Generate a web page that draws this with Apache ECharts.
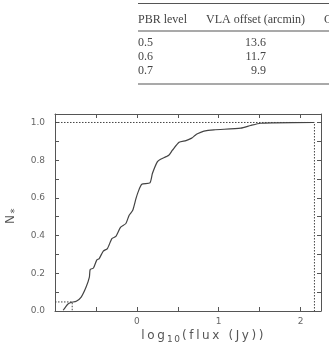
<!DOCTYPE html>
<html>
<head>
<meta charset="utf-8">
<script src="https://cdn.jsdelivr.net/npm/echarts@6/dist/echarts.min.js"></script>
<style>
  html, body { margin: 0; padding: 0; background: #fff; }
  #chart-box { width: 329px; height: 347px; }
</style>
</head>
<body>
<div id="chart-box"></div>
<script>
// table above the plot
const tableHead = ['PBR level', 'VLA offset (arcmin)', 'C']
const pbrLevels = ['0.5', '0.6', '0.7']
const vlaOffsets = ['13.6', '11.7', '9.9']

// cumulative curve, log10(flux) vs N*
const fluxLog = [-0.90, -0.87, -0.845, -0.805, -0.74, -0.68, -0.62, -0.58, -0.57, -0.53, -0.49, -0.46,
  -0.41, -0.36, -0.305, -0.256, -0.20, -0.134, -0.094, -0.05, -0.01, 0.016, 0.06, 0.16, 0.19,
  0.25, 0.29, 0.39, 0.435, 0.516, 0.60, 0.67, 0.71, 0.74, 0.82, 0.94, 1.27, 1.39, 1.51, 1.67, 2.16]
const nStar = [0.004, 0.022, 0.036, 0.045, 0.052, 0.074, 0.127, 0.18, 0.22, 0.228, 0.27, 0.278,
  0.318, 0.331, 0.384, 0.396, 0.443, 0.464, 0.508, 0.534, 0.597, 0.632, 0.672, 0.68, 0.729,
  0.791, 0.805, 0.826, 0.853, 0.895, 0.904, 0.917, 0.931, 0.94, 0.954, 0.961, 0.97, 0.984, 0.996, 0.998, 1.0]

// dotted guide lines
const upperGuideX = [-1, 2.17, 2.17]
const upperGuideY = [1, 1, 0]
const lowerGuideX = [-1, -0.79, -0.79]
const lowerGuideY = [0.048, 0.048, 0]

const xTickLabels = [0, 1, 2]
const yTickLabels = [0, 0.2, 0.4, 0.6, 0.8, 1.0]

const ink = '#444'
const pairs = (xs, ys) => xs.map((x, i) => [x, ys[i]])
const spaced = (str, key) => str.split('').map(c => '{' + key + '|' + c + '}').join('')

const axisCommon = {
  axisLine: { onZero: false, lineStyle: { color: '#555', width: 1 } },
  axisTick: { inside: true, length: 4, lineStyle: { color: '#555' } },
  splitLine: { show: false }
}
const labelStyle = { color: '#666', fontSize: 9, fontFamily: 'DejaVu Sans' }

const graphics = []
// rules of the table
;[3.5, 31, 84].forEach(y => {
  graphics.push({ type: 'line', shape: { x1: 138, y1: y, x2: 329, y2: y }, style: { stroke: '#555', lineWidth: 1.2 } })
})
const serif = { fontFamily: 'Liberation Serif', fontSize: 12, fill: ink, verticalAlign: 'middle' }
graphics.push({ type: 'text', x: 138, y: 20, style: Object.assign({ text: tableHead[0], align: 'left' }, serif) })
graphics.push({ type: 'text', x: 206, y: 20, style: Object.assign({ text: tableHead[1], align: 'left' }, serif) })
graphics.push({ type: 'text', x: 324, y: 20, style: Object.assign({ text: tableHead[2], align: 'left' }, serif) })
pbrLevels.forEach((p, i) => {
  const y = 43 + i * 14
  graphics.push({ type: 'text', x: 138, y: y, style: Object.assign({ text: p, align: 'left' }, serif) })
  graphics.push({ type: 'text', x: 266, y: y, style: Object.assign({ text: vlaOffsets[i], align: 'right' }, serif) })
})
// axis titles
graphics.push({
  type: 'text', x: 140, y: 336,
  style: {
    text: spaced('log', 'c') + spaced('10', 's') + spaced('(flux (Jy))', 'c'),
    align: 'left', verticalAlign: 'middle', fill: '#555',
    rich: {
      c: { fontSize: 12, fontFamily: 'DejaVu Sans', color: '#555', padding: [0, 1.3] },
      s: { fontSize: 9, fontFamily: 'DejaVu Sans', color: '#555', padding: [8, 0.8, 0, 0.8] }
    }
  }
})
graphics.push({
  type: 'text', x: 11, y: 217, rotation: Math.PI / 2,
  style: {
    text: '{n|N}{s|*}', align: 'center', verticalAlign: 'middle', fill: '#555',
    rich: {
      n: { fontSize: 12, fontFamily: 'DejaVu Sans', color: '#555', padding: [0, 1.5] },
      s: { fontSize: 10, fontFamily: 'DejaVu Sans', color: '#555', padding: [8, 0, 0, 0] }
    }
  }
})

const options = {
  animation: false,
  backgroundColor: '#fff',
  grid: { left: 55, right: 8, top: 114, bottom: 36 },
  xAxis: [
    Object.assign({
      type: 'value', position: 'bottom', min: -1, max: 2.25, interval: 0.5,
      axisLabel: Object.assign({
        margin: 6, showMaxLabel: false,
        formatter: v => (xTickLabels.indexOf(v) >= 0 ? String(v) : '')
      }, labelStyle)
    }, axisCommon),
    Object.assign({
      type: 'value', position: 'top', min: -1, max: 2.25, interval: 0.5,
      axisLabel: { show: false }
    }, axisCommon)
  ],
  yAxis: [
    Object.assign({
      type: 'value', position: 'left', min: 0, max: 1.045, interval: 0.1,
      axisLabel: Object.assign({
        margin: 10, showMaxLabel: false,
        formatter: v => {
          const k = Math.round(v * 10)
          return yTickLabels.some(t => Math.round(t * 10) === k) ? (k / 10).toFixed(1) : ''
        }
      }, labelStyle)
    }, axisCommon),
    Object.assign({
      type: 'value', position: 'right', min: 0, max: 1.045, interval: 0.1,
      axisLabel: { show: false }
    }, axisCommon)
  ],
  series: [
    {
      type: 'line', xAxisIndex: 0, yAxisIndex: 0, symbol: 'none', smooth: 0.2,
      lineStyle: { color: ink, width: 1.2 },
      data: pairs(fluxLog, nStar)
    },
    {
      type: 'line', xAxisIndex: 0, yAxisIndex: 0, symbol: 'none',
      lineStyle: { color: ink, width: 1, type: [1.5, 1.5] },
      data: pairs(upperGuideX, upperGuideY)
    },
    {
      type: 'line', xAxisIndex: 0, yAxisIndex: 0, symbol: 'none',
      lineStyle: { color: ink, width: 1, type: [1.5, 1.5] },
      data: pairs(lowerGuideX, lowerGuideY)
    }
  ],
  graphic: graphics
}

var myChart = echarts.init(document.getElementById('chart-box'), null, { renderer: 'canvas' })
myChart.setOption(options)
</script>
</body>
</html>
